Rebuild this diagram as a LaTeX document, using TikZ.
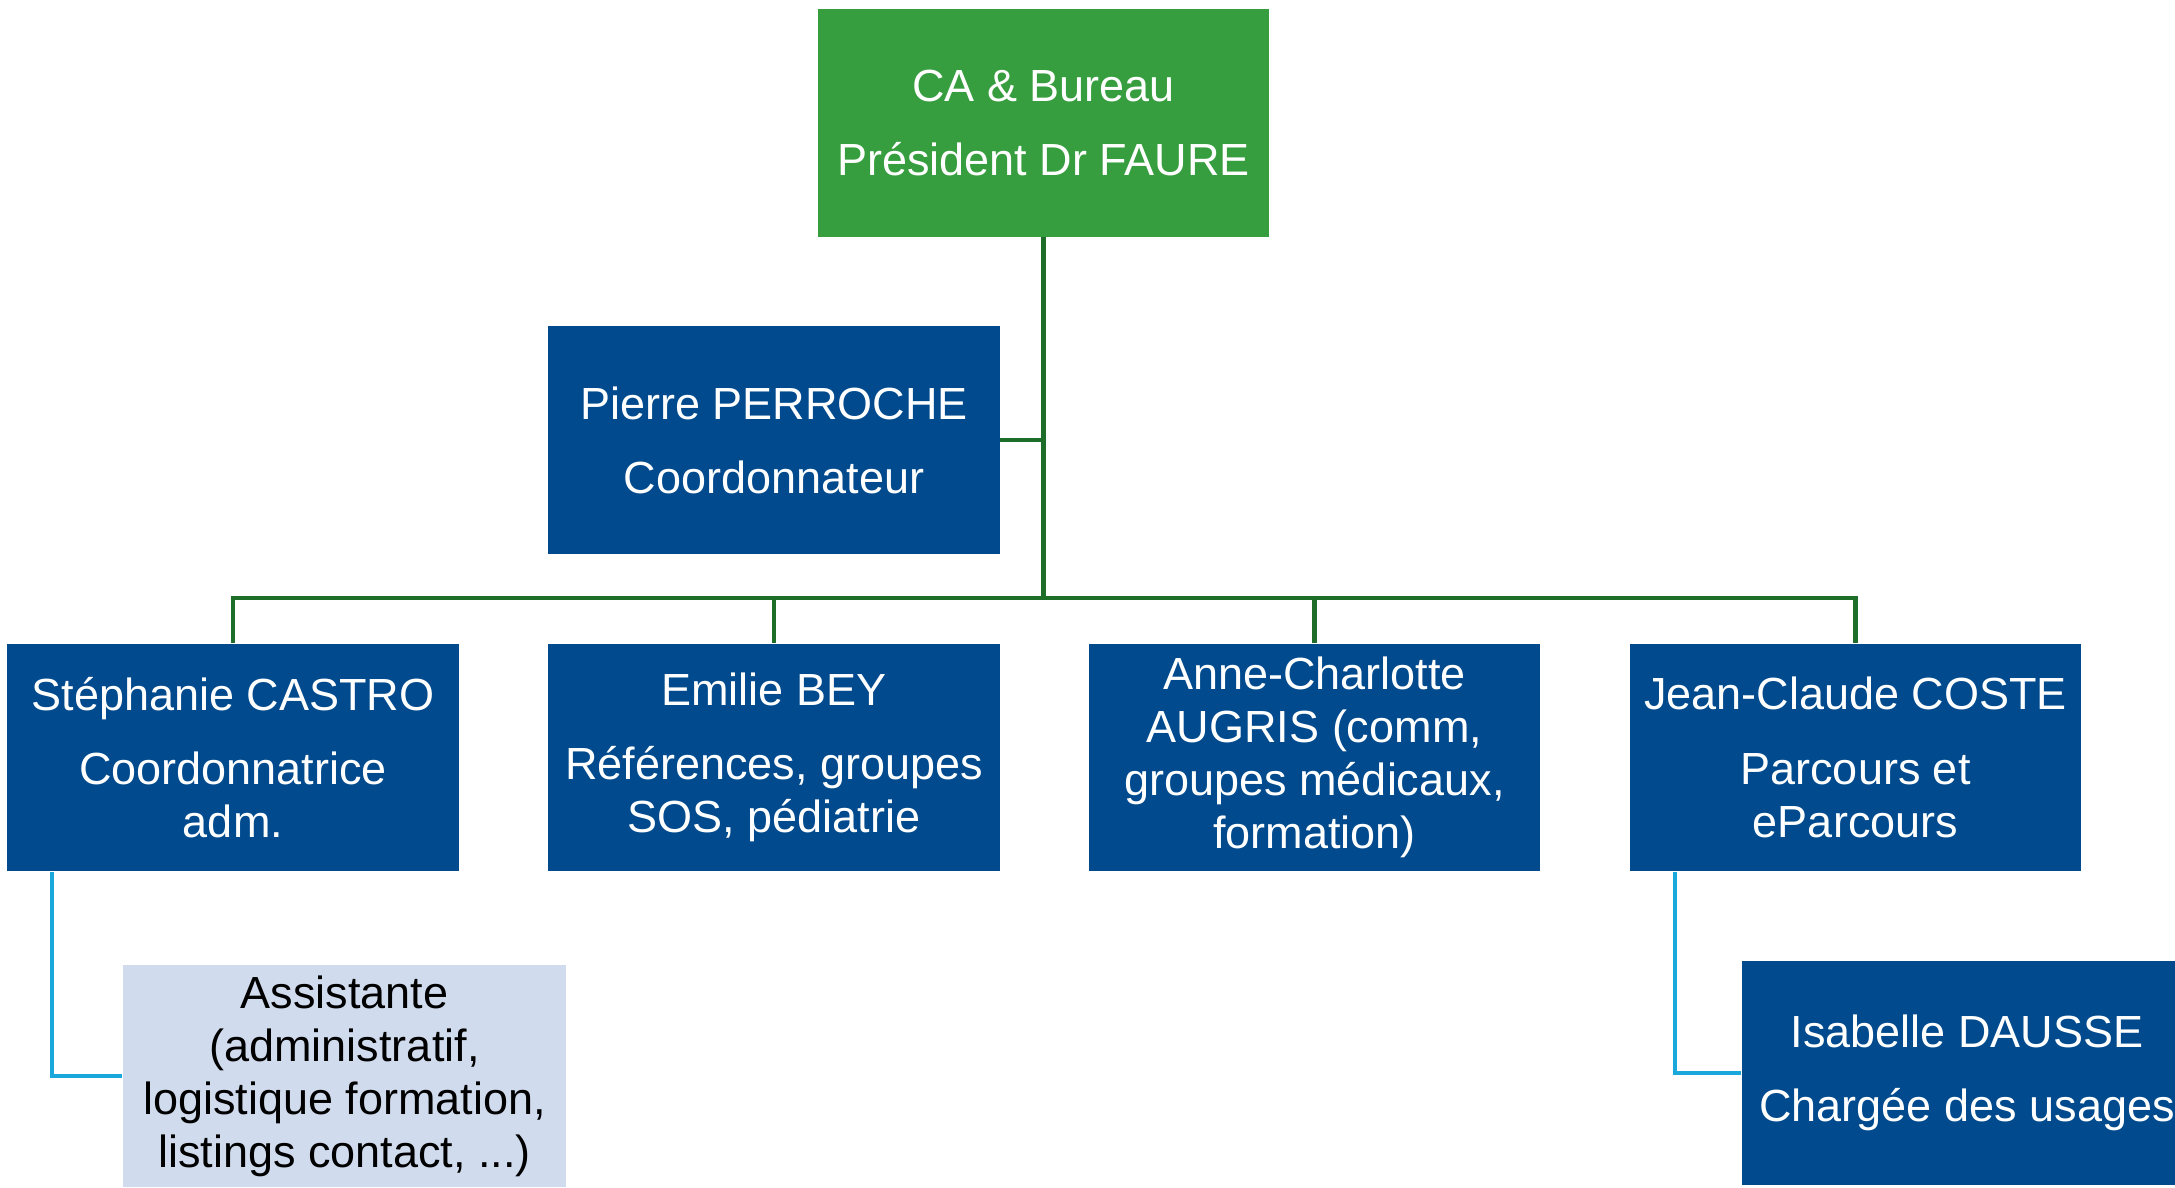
\documentclass[tikz,border=0pt]{standalone}
\usepackage{fontspec}
\setmainfont{Liberation Sans}
\definecolor{boxgreen}{HTML}{369E3E}
\definecolor{boxblue}{HTML}{004A8D}
\definecolor{boxlight}{HTML}{D1DBEE}
\definecolor{linegreen}{HTML}{1E6E29}
\definecolor{lineblue}{HTML}{1AA8DC}
\begin{document}
\begin{tikzpicture}[x=0.01cm,y=-0.01cm,
  box/.style={rectangle, fill=boxblue, text=white, inner sep=0pt,
    minimum width=4.51cm, minimum height=2.27cm, align=center,
    font=\fontsize{12.8}{15.1}\selectfont},
  topbox/.style={box, fill=boxgreen},
  lightbox/.style={box, fill=boxlight, text=black, minimum width=4.43cm, minimum height=2.22cm},
  gline/.style={draw=linegreen, line width=1.3pt},
  bline/.style={draw=lineblue, line width=1.2pt}]
\useasboundingbox (0,0) rectangle (2175,1187);
\fill[white] (0,0) rectangle (2175,1187);
\node[topbox] (ca) at (1043.5,123) {CA \& Bureau\\[0.21cm]Président Dr FAURE};
\node[box] (pp) at (774,440) {Pierre PERROCHE\\[0.21cm]Coordonnateur};
\node[box] (sc) at (233,757.5) {Stéphanie CASTRO\\[0.21cm]Coordonnatrice\\adm.};
\node[box] (eb) at (774,757.5) {Emilie BEY\\[0.21cm]Références, groupes\\SOS, pédiatrie};
\node[box] (ac) at (1314.5,757.5) {Anne-Charlotte\\AUGRIS (comm,\\groupes médicaux,\\formation)};
\node[box] (jc) at (1855.5,757.5) {Jean-Claude COSTE\\[0.21cm]Parcours et\\eParcours};
\node[lightbox] (as) at (344.5,1076) {Assistante\\(administratif,\\logistique formation,\\listings contact, ...)};
\node[box, minimum width=4.5cm, minimum height=2.24cm] (ib) at (1967,1073) {Isabelle DAUSSE\\[0.21cm]Chargée des usages};
\coordinate (hub) at (1043.5,598);
\draw[gline] (ca.south) -- (hub);
\draw[gline] (pp.east) -- (pp.east -| hub);
\draw[gline] (sc.north) -- (sc.north |- hub) -- (jc.north |- hub) -- (jc.north);
\draw[gline] (eb.north) -- (eb.north |- hub);
\draw[gline] (ac.north) -- (ac.north |- hub);
\draw[bline] ([xshift=0.45cm]sc.south west) |- (as.west);
\draw[bline] ([xshift=0.46cm]jc.south west) |- (ib.west);
\end{tikzpicture}
\end{document}
